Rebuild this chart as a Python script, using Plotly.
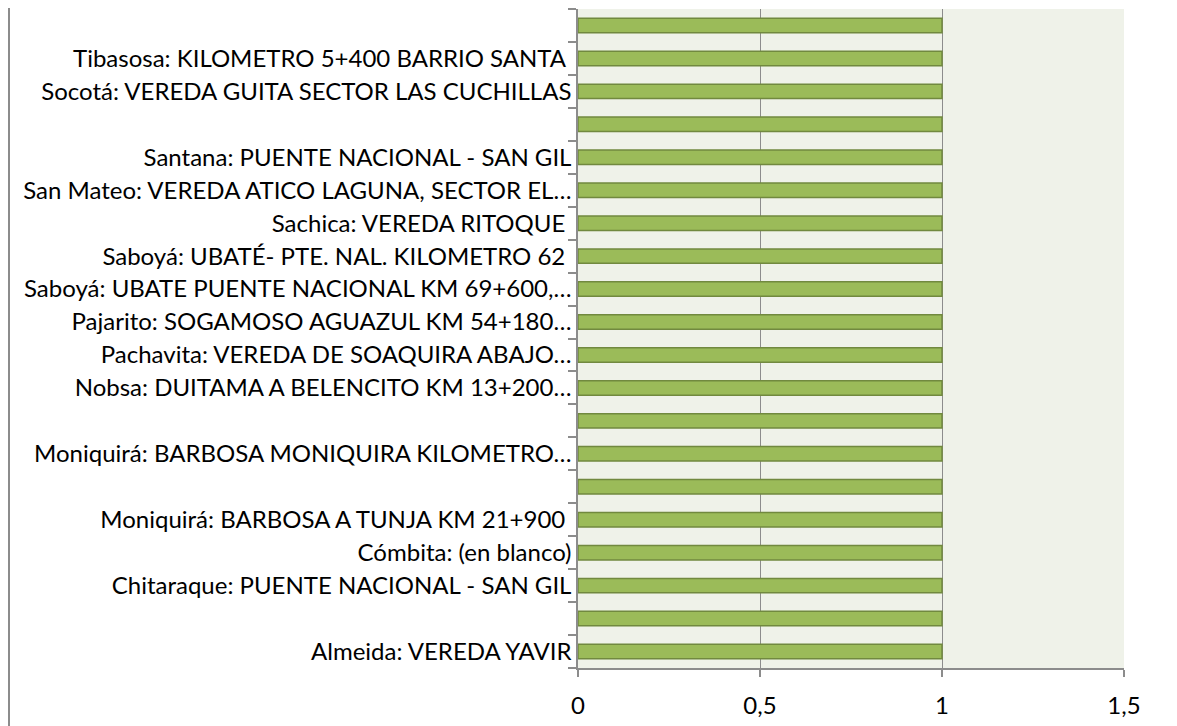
import plotly.graph_objects as go

# categories, bottom to top (blank categories made unique with whitespace)
labels = [
    "Almeida: VEREDA YAVIR",
    " ",
    "Chitaraque: PUENTE NACIONAL - SAN GIL",
    "Cómbita: (en blanco)",
    "Moniquirá: BARBOSA A TUNJA KM 21+900 ",
    "  ",
    "Moniquirá: BARBOSA MONIQUIRA KILOMETRO…",
    "   ",
    "Nobsa: DUITAMA A BELENCITO KM 13+200…",
    "Pachavita: VEREDA DE SOAQUIRA ABAJO…",
    "Pajarito: SOGAMOSO AGUAZUL KM 54+180…",
    "Saboyá: UBATE PUENTE NACIONAL KM 69+600,…",
    "Saboyá: UBATÉ- PTE. NAL. KILOMETRO 62 ",
    "Sachica: VEREDA RITOQUE ",
    "San Mateo: VEREDA ATICO LAGUNA, SECTOR EL…",
    "Santana: PUENTE NACIONAL - SAN GIL",
    "    ",
    "Socotá: VEREDA GUITA SECTOR LAS CUCHILLAS",
    "Tibasosa: KILOMETRO 5+400 BARRIO SANTA ",
    "     ",
]
values = [1] * 20
x_ticks = [0, 0.5, 1, 1.5]
x_ticklabels = ["0", "0,5", "1", "1,5"]

fig = go.Figure(go.Bar(
    x=values, y=labels, orientation="h",
    marker=dict(color="#9BBB59", line=dict(color="#71893F", width=1.5)),
    hoverinfo="x+y",
))

fig.update_layout(
    width=1177, height=726,
    margin=dict(l=570, r=61, t=1, b=66),
    paper_bgcolor="white",
    plot_bgcolor="#EFF2E9",
    bargap=0.56,
    showlegend=False,
    font=dict(family="Lato, Open Sans, sans-serif", size=24, color="black"),
    xaxis=dict(
        range=[0, 1.5], tickvals=x_ticks, ticktext=x_ticklabels,
        showgrid=True, gridcolor="#8C8C8C", gridwidth=1,
        showline=True, linecolor="#8C8C8C", linewidth=1.5,
        ticks="outside", ticklen=7, tickcolor="#8C8C8C", tickwidth=1.5,
        ticklabelstandoff=8,
        zeroline=False, fixedrange=True, automargin=False,
    ),
    yaxis=dict(
        type="category", categoryorder="array", categoryarray=labels,
        tickson="boundaries",
        showline=True, linecolor="#8C8C8C", linewidth=1.5,
        ticks="outside", ticklen=8, tickcolor="#8C8C8C", tickwidth=1.5,
        showgrid=False, fixedrange=True, automargin=False,
    ),
    shapes=[dict(type="line", xref="paper", yref="paper",
                 x0=-569 / 546, x1=-569 / 546, y0=-0.2, y1=1.2,
                 line=dict(color="#8C8C8C", width=2))],
)

fig.write_html("out.html")
